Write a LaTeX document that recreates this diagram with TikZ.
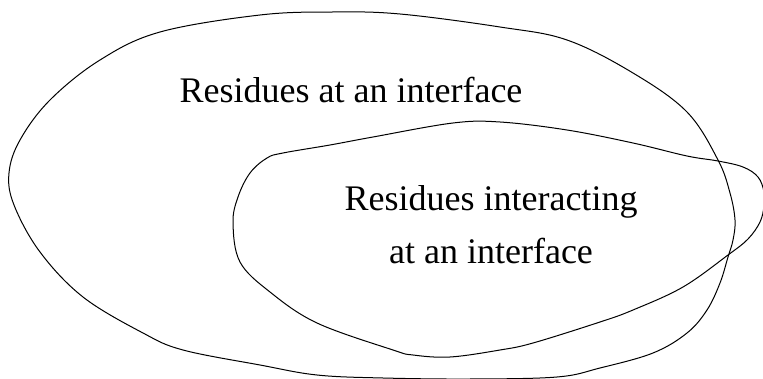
\documentclass[tikz,border=0pt]{standalone}
\usepackage{fontspec}
\setmainfont{Liberation Serif}
\begin{document}
\begin{tikzpicture}[x=1pt,y=-1pt,
  blob/.style={draw=black,line width=1pt},
  lbl/.style={anchor=base,inner sep=0pt,font=\fontsize{36}{43}\selectfont}]
\useasboundingbox (0,0) rectangle (763,379);
% outer region
\draw[blob] plot[smooth cycle,tension=0.6] coordinates {
  (9,173) (20,140) (50,100) (100,60) (160,32) (260,15) (333,12) (400,14)
  (500,27) (567,40) (633,73) (687,112) (718,160) (730,193) (735,220)
  (733,240) (728,257) (720,283) (707,310) (687,333) (653,353) (600,368)
  (557,377) (470,379) (383,378) (317,375) (260,365) (183,350) (143,333)
  (83,297) (40,252) (14,205)};
% inner region
\draw[blob] plot[smooth cycle,tension=0.6] coordinates {
  (233,223) (238,197) (250,173) (267,158) (283,153) (330,145) (373,137)
  (453,123) (500,122) (567,130) (633,143) (687,156) (718,161) (743,167)
  (758,177) (764,192) (764,206) (760,222) (748,239) (728,255) (683,287)
  (633,310) (600,322) (533,343) (500,350) (450,357) (413,355) (393,350)
  (317,323) (270,292) (240,262)};
\node[lbl] (outerlbl) at (351,103) {Residues at an interface};
\node[lbl] (innerlblA) at (491,211) {Residues interacting};
\node[lbl] (innerlblB) at (491,264) {at an interface};
\end{tikzpicture}
\end{document}
